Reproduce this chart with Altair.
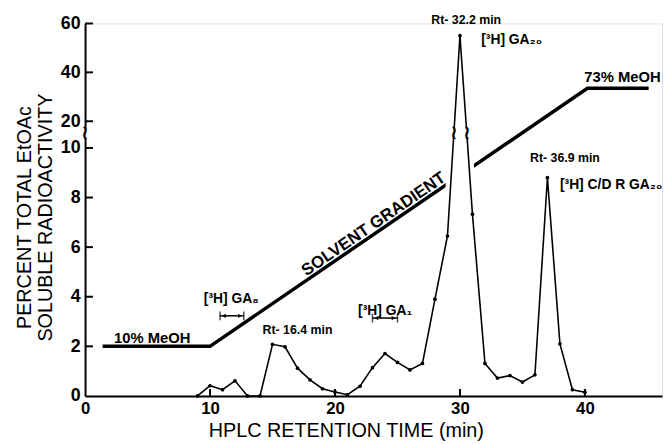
import altair as alt
import pandas as pd

# ---- data ----
time_min = [9, 10, 11, 12, 13, 14, 15, 16, 17, 18, 19, 20, 21, 22, 23, 24, 25, 26,
            27, 28, 29, 30, 31, 32, 33, 34, 35, 36, 37, 38, 39, 40]
pct_radio = [0, 0.41, 0.25, 0.61, 0, 0, 2.08, 1.98, 1.12, 0.65, 0.29, 0.16, 0.05, 0.39,
             1.14, 1.71, 1.35, 1.05, 1.31, 3.9, 6.45, 55.0, 7.33, 1.31, 0.72, 0.82,
             0.56, 0.85, 8.8, 2.1, 0.25, 0.15]

grad_time = [1.4, 10, 40.2, 45.1]
grad_level = [2, 2, 33.5, 33.5]

x_tick_values = [0, 10, 20, 30, 40]
y_tick_values = [0, 2, 4, 6, 8, 10, 20, 40, 60]
y_domain = [0, 10, 20, 60]
x_domain = [0, 46.17]

# reference standards (elution windows)
std_lo = [10.8, 23.0]
std_hi = [12.7, 25.0]
std_level = [3.23, 3.14]

# labels
std_text = ["[³H] GA₈", "[³H] GA₁", "[³H] GA₂₀", "[³H] C/D R GA₂₀"]
std_tx = [9.5, 21.85, 31.7, 38.0]
std_ty = [3.9, 3.43, 53.1, 8.5]

rt_text = ["Rt- 16.4 min", "Rt- 32.2 min", "Rt- 36.9 min"]
rt_tx = [17.0, 30.5, 38.4]
rt_ty = [2.67, 61.6, 9.6]

meoh_text = ["10% MeOH", "73% MeOH"]
meoh_tx = [5.38, 43.0]
meoh_ty = [2.35, 38.2]

grad_text = ["SOLVENT GRADIENT"]
grad_tx = [23.1]
grad_ty = [6.92]

break_x = [0, 29.52, 30.55]
break_y = [15.5, 15.5, 15.5]

# ---- layout ----
W, H = 584, 377
FONT = "Liberation Sans"

xs = alt.Scale(domain=x_domain, nice=False, zero=False)
ys = alt.Scale(domain=y_domain, range=[H, 126, 99, 0], nice=False, zero=False)

df = pd.DataFrame({"t": time_min, "p": pct_radio})
halo_df = df[(df.t >= 29) & (df.t <= 31)].copy()
halo_df["floor"] = 7.0
grad_df = pd.DataFrame({"t": grad_time, "p": grad_level})

x_axis = alt.Axis(values=x_tick_values, ticks=False, tickSize=0, grid=False,
                  domainColor="black", domainWidth=2,
                  labelFont=FONT, labelFontSize=17, labelFontWeight="bold",
                  labelColor="black", labelPadding=5, labelFlush=False,
                  title="HPLC RETENTION TIME (min)", titleFont=FONT,
                  titleFontSize=20, titleFontWeight="normal", titleColor="black",
                  titleX=264, titleY=35, titleAlign="center", titleBaseline="middle")
y_axis = alt.Axis(values=y_tick_values, ticks=False, tickSize=0, grid=False,
                  domainColor="black", domainWidth=2,
                  labelFont=FONT, labelFontSize=18, labelFontWeight="bold",
                  labelColor="black", labelPadding=5, labelFlush=False,
                  title=["PERCENT TOTAL EtOAc", "SOLUBLE RADIOACTIVITY"],
                  titleFont=FONT, titleFontSize=20, titleFontWeight="normal",
                  titleColor="black", titleAngle=270, titleX=-61, titleY=196,
                  titleAlign="center", titleBaseline="middle", titleLineHeight=21)

X = lambda f: alt.X(f, scale=xs, axis=x_axis)
Y = lambda f: alt.Y(f, scale=ys, axis=y_axis)

gradient = alt.Chart(grad_df).mark_line(color="black", strokeWidth=3.5).encode(
    x=X("t:Q"), y=Y("p:Q"))

# white knock-out where the gradient line passes behind the main peak
peak_fill = alt.Chart(halo_df).mark_area(color="white", opacity=1).encode(
    x=X("t:Q"), y=Y("p:Q"), y2="floor:Q")
halo = alt.Chart(halo_df).mark_line(color="white", strokeWidth=10, strokeJoin="round").encode(
    x=X("t:Q"), y=Y("p:Q"))

trace = alt.Chart(df).mark_line(color="black", strokeWidth=1.6).encode(
    x=X("t:Q"), y=Y("p:Q"))
dots = alt.Chart(df).mark_circle(color="black", size=14, opacity=1).encode(
    x=X("t:Q"), y=Y("p:Q"))

ytick = alt.Chart(pd.DataFrame({"v": y_tick_values[1:]})).mark_rule(
    color="black", strokeWidth=2).encode(y=Y("v:Q"), x=alt.value(0), x2=alt.value(8))
xtick = alt.Chart(pd.DataFrame({"v": x_tick_values[1:]})).mark_rule(
    color="black", strokeWidth=2).encode(x=X("v:Q"), y=alt.value(H), y2=alt.value(H - 7))

std_df = pd.DataFrame({"lo": std_lo, "hi": std_hi, "y": std_level})
std_rule = alt.Chart(std_df).mark_rule(color="black", strokeWidth=1.5).encode(
    x=X("lo:Q"), x2="hi:Q", y=Y("y:Q"))
std_end_l = alt.Chart(std_df).mark_tick(color="black", thickness=1.5, size=9,
                                        orient="vertical").encode(x=X("lo:Q"), y=Y("y:Q"))
std_end_r = alt.Chart(std_df).mark_tick(color="black", thickness=1.5, size=9,
                                        orient="vertical").encode(x=X("hi:Q"), y=Y("y:Q"))
arr_l = alt.Chart(std_df).mark_point(shape="triangle-left", filled=True, color="black",
                                     size=18, opacity=1, xOffset=4).encode(x=X("lo:Q"), y=Y("y:Q"))
arr_r = alt.Chart(std_df).mark_point(shape="triangle-right", filled=True, color="black",
                                     size=18, opacity=1, xOffset=-4).encode(x=X("hi:Q"), y=Y("y:Q"))

brk_df = pd.DataFrame({"x": break_x, "y": break_y})
brk_white = alt.Chart(brk_df).mark_square(color="white", size=80, opacity=1).encode(
    x=X("x:Q"), y=Y("y:Q"))
brk_glyph = alt.Chart(brk_df).mark_text(text="≀", font="DejaVu Sans", fontSize=20,
                                        fontWeight="bold", color="black",
                                        baseline="middle").encode(
    x=X("x:Q"), y=Y("y:Q"))

std_lab = alt.Chart(pd.DataFrame({"x": std_tx, "y": std_ty, "s": std_text})).mark_text(
    font=FONT, fontSize=14, fontWeight="bold", align="left", baseline="middle",
    color="black").encode(x=X("x:Q"), y=Y("y:Q"), text="s:N")
rt_lab = alt.Chart(pd.DataFrame({"x": rt_tx, "y": rt_ty, "s": rt_text})).mark_text(
    font=FONT, fontSize=12.5, fontWeight="bold", align="center", baseline="middle",
    color="black").encode(x=X("x:Q"), y=Y("y:Q"), text="s:N")
meoh_lab = alt.Chart(pd.DataFrame({"x": meoh_tx, "y": meoh_ty, "s": meoh_text})).mark_text(
    font=FONT, fontSize=15, fontWeight="bold", align="center", baseline="middle",
    color="black").encode(x=X("x:Q"), y=Y("y:Q"), text="s:N")
grad_lab = alt.Chart(pd.DataFrame({"x": grad_tx, "y": grad_ty, "s": grad_text})).mark_text(
    font=FONT, fontSize=17, fontWeight="bold", align="center", baseline="middle",
    angle=325.6, color="black").encode(x=X("x:Q"), y=Y("y:Q"), text="s:N")

chart = alt.layer(
    gradient, peak_fill, halo, trace, dots, ytick, xtick,
    std_rule, std_end_l, std_end_r, arr_l, arr_r,
    brk_white, brk_glyph,
    std_lab, rt_lab, meoh_lab, grad_lab,
).properties(
    width=W, height=H,
    autosize=alt.AutoSizeParams(type="none"),
    padding={"left": 78, "top": 13, "right": 2, "bottom": 45},
).configure_view(stroke=None).configure(background="white")

chart.save("out.html", embed_options={"renderer": "svg", "actions": False})
